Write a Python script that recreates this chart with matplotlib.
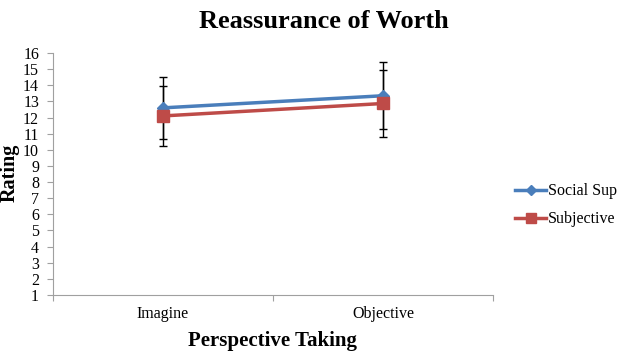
import matplotlib.pyplot as plt
from matplotlib.lines import Line2D

categories = ["Imagine", "Objective"]
series_names = ["Social Sup", "Subjective"]
social = [12.6, 13.35]
social_err = [1.9, 2.08]
subjective = [12.1, 12.87]
subjective_err = [1.88, 2.08]
yticks = list(range(1, 17))

plt.rcParams['font.family'] = ['Liberation Serif', 'DejaVu Serif']

W, H = 619, 357
fig = plt.figure(figsize=(W / 100, H / 100), dpi=100)
ax = fig.add_axes([53 / W, (H - 295) / H, (493 - 53) / W, (295 - 53) / H])

x = list(range(len(categories)))
blue = "#4a7ebb"
red = "#be4b48"

ax.errorbar(x, social, yerr=social_err, color=blue, lw=2.5, marker="D", ms=6,
            ecolor="black", elinewidth=1, capsize=3, capthick=1, zorder=3)
ax.errorbar(x, subjective, yerr=subjective_err, color=red, lw=2.5, marker="s", ms=8,
            ecolor="black", elinewidth=1, capsize=3, capthick=1, zorder=3)

ax.set_xlim(-0.5, 1.5)
ax.set_ylim(1, 16)
ax.set_yticks(yticks)
ax.set_yticklabels([str(t) for t in yticks], fontsize=11.5)
ax.set_xticks([-0.5, 0.5, 1.5], minor=False)
ax.set_xticklabels([])
ax.set_xticks(x, minor=True)
ax.set_xticklabels(categories, minor=True, fontsize=11.5)
ax.tick_params(axis="x", which="minor", length=0, pad=8)
ax.tick_params(axis="x", which="major", length=4, color="#a0a0a0", direction="out")
ax.tick_params(axis="y", length=4, color="#a0a0a0", pad=6)

for s in ["top", "right"]:
    ax.spines[s].set_visible(False)
for s in ["left", "bottom"]:
    ax.spines[s].set_color("#a0a0a0")

fig.text(324 / W, 1 - 21 / H, "Reassurance of Worth", ha="center", va="center",
         fontsize=19, fontweight="bold")
fig.text(272 / W, 1 - 341 / H, "Perspective Taking", ha="center", va="center",
         fontsize=15, fontweight="bold")
fig.text(10 / W, 1 - 173 / H, "Rating", ha="center", va="center", rotation=90,
         fontsize=14.5, fontweight="bold")

handles = [
    Line2D([], [], color=blue, lw=2.5, marker="D", ms=5),
    Line2D([], [], color=red, lw=2.5, marker="s", ms=7),
]
fig.legend(handles, series_names, loc="upper left", bbox_to_anchor=(509 / W, 1 - 177 / H),
           frameon=False, fontsize=11.5, handlelength=1.9, handletextpad=0.15,
           labelspacing=0.75, borderaxespad=0)

fig.savefig("out.png", dpi=100)
